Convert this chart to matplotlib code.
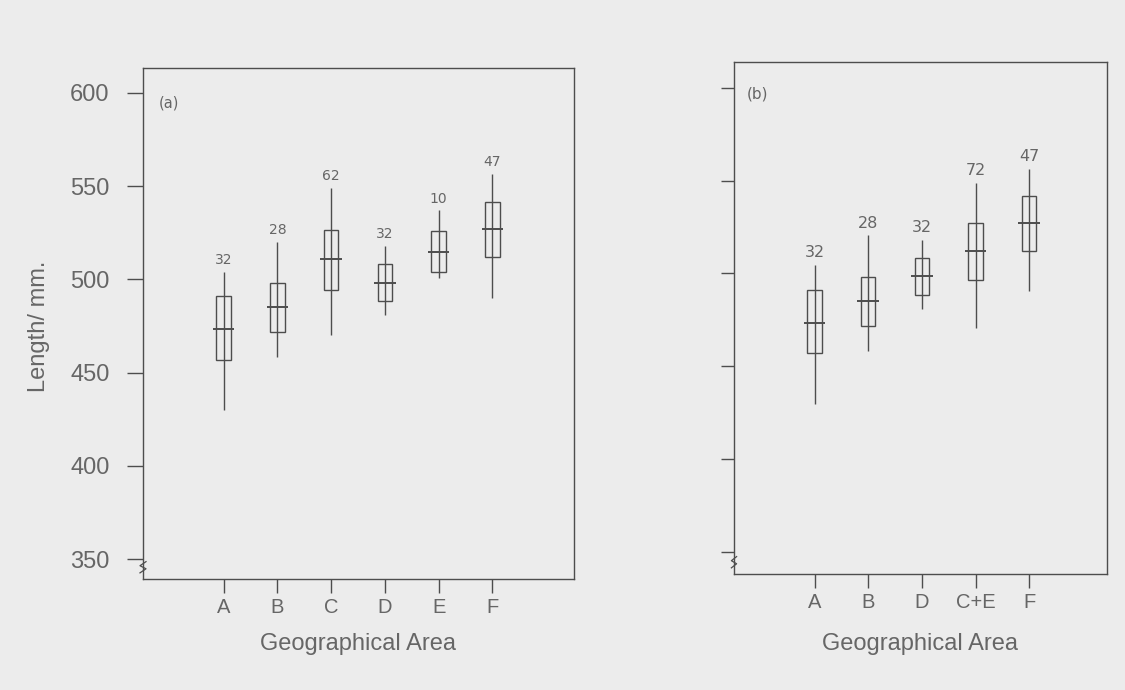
import matplotlib
matplotlib.use("Agg")
import matplotlib.pyplot as plt

# ---------------- data ----------------
cats_a = ['A', 'B', 'C', 'D', 'E', 'F']
n_a = [32, 28, 62, 32, 10, 47]
wlo_a = [430, 458.5, 470, 481, 500.5, 490]
q1_a = [457, 472, 494.5, 488.5, 504, 512]
med_a = [473.5, 485, 511, 498, 514.5, 527]
q3_a = [491, 498, 526.5, 508.5, 526, 541.5]
whi_a = [504, 520, 549, 518, 537, 556.5]

cats_b = ['A', 'B', 'D', 'C+E', 'F']
n_b = [32, 28, 32, 72, 47]
wlo_b = [429.5, 458, 481, 470.5, 490.5]
q1_b = [457, 471.5, 488.5, 496.5, 512]
med_b = [473.5, 485, 498.5, 512, 527]
q3_b = [491, 498, 508.5, 527, 542]
whi_b = [504.5, 520.5, 518, 549, 556.5]

yticks = [350, 400, 450, 500, 550, 600]

# ---------------- style ----------------
BG = '#ececec'
LINE = '#4d4d4d'
TXT = '#666666'
SANS = ['Liberation Sans', 'DejaVu Sans']

W, H = 1125, 690
fig = plt.figure(figsize=(W / 100, H / 100), dpi=100, facecolor=BG)


def px_axes(l, t, r, b):
    return fig.add_axes([l / W, 1 - b / H, (r - l) / W, (b - t) / H])


def draw_panel(ax, cats, n, wlo, q1, med, q3, whi, xlim, ylim, num_size,
               tick_labels, ytick_len, tag, tagpos, tagsize):
    ax.set_facecolor(BG)
    x = list(range(1, len(cats) + 1))
    ax.vlines(x, wlo, whi, color=LINE, lw=1.0, zorder=2)
    heights = [b - a for a, b in zip(q1, q3)]
    ax.bar(x, heights, bottom=q1, width=0.27, facecolor='none',
           edgecolor=LINE, linewidth=1.0, zorder=3)
    ax.hlines(med, [xi - 0.2 for xi in x], [xi + 0.2 for xi in x],
              color=LINE, lw=1.4, zorder=4)
    for xi, top, lab in zip(x, whi, n):
        ax.annotate(str(lab), (xi, top), xytext=(0, 3.5),
                    textcoords='offset points', ha='center', va='bottom',
                    fontsize=num_size, color=TXT, family='DejaVu Sans')
    ax.set_xlim(*xlim)
    ax.set_ylim(*ylim)
    ax.set_xticks(x)
    ax.set_xticklabels(cats, fontsize=14.5, color=TXT, family=SANS)
    ax.set_yticks(yticks)
    if tick_labels:
        ax.set_yticklabels([str(v) for v in yticks], fontsize=17,
                           color=TXT, family=SANS)
    else:
        ax.set_yticklabels([])
    ax.tick_params(axis='x', direction='out', length=10, width=1.0,
                   color=LINE, pad=3.5)
    ax.tick_params(axis='y', direction='out', length=ytick_len, width=1.0,
                   color=LINE, pad=12.5)
    for s in ax.spines.values():
        s.set_color(LINE)
        s.set_linewidth(1.0)
    ax.text(tagpos[0], tagpos[1], tag, transform=ax.transAxes,
            ha='center', va='center', fontsize=tagsize, color=TXT,
            family='DejaVu Sans')
    # small axis-break squiggle near the bottom of the y axis
    ax.plot([-0.007, 0.007, -0.007, 0.007], [0.012, 0.020, 0.026, 0.034],
            transform=ax.transAxes, color=LINE, lw=0.9, clip_on=False,
            zorder=5)


ax_a = px_axes(143, 68, 574, 579)
draw_panel(ax_a, cats_a, n_a, wlo_a, q1_a, med_a, q3_a, whi_a,
           (-0.5, 7.52), (339.3, 613.4), 10, True, 11.5,
           '(a)', (0.060, 0.931), 10.5)

ax_b = px_axes(734, 62, 1107, 574)
draw_panel(ax_b, cats_b, n_b, wlo_b, q1_b, med_b, q3_b, whi_b,
           (-0.5, 6.45), (338, 614), 11.5, False, 9.5,
           '(b)', (0.0635, 0.9375), 11)

fig.text(39 / W, 1 - 326 / H, 'Length/ mm.', rotation=90, ha='center',
         va='center', fontsize=17, color=TXT, family=SANS)
fig.text(358.5 / W, 1 - 650 / H, 'Geographical Area', ha='center',
         va='baseline', fontsize=17, color=TXT, family=SANS)
fig.text(920.5 / W, 1 - 650 / H, 'Geographical Area', ha='center',
         va='baseline', fontsize=17, color=TXT, family=SANS)

fig.savefig('out.png', dpi=100, facecolor=BG)
